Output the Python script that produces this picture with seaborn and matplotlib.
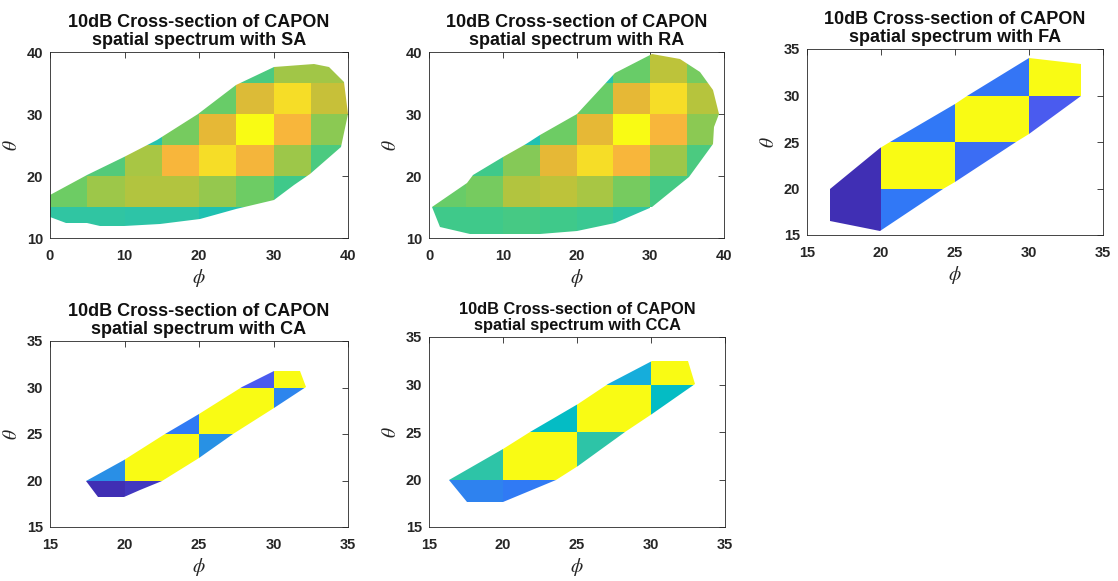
import numpy as np
import matplotlib
matplotlib.use("Agg")
import matplotlib.pyplot as plt
import seaborn as sns
from matplotlib.patches import Polygon
from matplotlib.colors import LinearSegmentedColormap

nan = np.nan

# ---------------- data ----------------
wide_phi_edges = [0, 5, 10, 15, 20, 25, 30, 35, 40]
wide_theta_edges = [10, 15, 20, 25, 30, 35, 40]
narrow_phi_edges = [15, 20, 25, 30, 35]
narrow_theta_edges = [15, 20, 25, 30, 35]

# cell levels (rows = theta bands bottom->top, cols = phi bands left->right)
sa_levels = [
    [0.49, 0.49, 0.48, 0.48, 0.46, 0.47, nan, nan],
    [0.62, 0.68, 0.72, 0.72, 0.67, 0.62, 0.55, 0.55],
    [0.60, 0.58, 0.70, 0.86, 0.93, 0.85, 0.68, 0.57],
    [nan, nan, 0.47, 0.63, 0.82, 1.00, 0.86, 0.66],
    [nan, nan, nan, 0.60, 0.61, 0.80, 0.93, 0.76],
    [nan, nan, nan, nan, 0.56, 0.57, 0.69, 0.69],
]
ra_levels = [
    [0.55, 0.55, 0.56, 0.55, 0.53, 0.49, nan, nan],
    [0.61, 0.63, 0.72, 0.74, 0.70, 0.63, 0.56, 0.56],
    [0.60, 0.55, 0.65, 0.82, 0.93, 0.86, 0.68, 0.57],
    [nan, nan, 0.46, 0.62, 0.82, 1.00, 0.86, 0.66],
    [nan, nan, nan, 0.47, 0.61, 0.82, 0.93, 0.73],
    [nan, nan, nan, nan, 0.47, 0.61, 0.74, 0.63],
]
fa_levels = [
    [0.02, 0.22, nan, nan],
    [0.02, 1.00, 0.18, nan],
    [nan, 0.22, 1.00, 0.12],
    [nan, nan, 0.21, 1.00],
]
ca_levels = [
    [0.02, 0.04, nan, nan],
    [0.29, 1.00, 0.30, nan],
    [nan, 0.23, 1.00, 0.26],
    [nan, nan, 0.12, 1.00],
]
cca_levels = [
    [0.25, 0.23, nan, nan],
    [0.48, 1.00, 0.48, nan],
    [nan, 0.42, 1.00, 0.42],
    [nan, nan, 0.37, 1.00],
]

# 10 dB contour outlines (phi, theta)
sa_phi = [0, 0, 5, 9.9, 14.3, 19.9, 25, 30, 35.4, 37.4, 39.4, 40, 39, 34.9, 32.7, 30, 25, 20.2, 14.8, 9.9, 6.7, 5, 2.2]
sa_theta = [13.4, 16.9, 20.1, 23.1, 25.75, 30.05, 34.6, 37.6, 38.1, 37.6, 35.2, 30.05, 24.7, 20.4, 18.5, 16.1, 14.7, 13.1, 12.3, 12.0, 12.0, 12.4, 12.4]
ra_phi = [0.36, 5.1, 6, 10.1, 13.2, 15, 20, 25.2, 30.2, 34, 36.7, 38.5, 39.3, 38.7, 38.5, 35.3, 30.2, 25.2, 20, 15, 10.1, 5.5, 1.5]
ra_theta = [15.0, 18.9, 20.1, 23.1, 25.2, 26.6, 30.05, 36.6, 39.7, 38.8, 36.8, 33.8, 30.05, 27.9, 25.2, 19.8, 15.0, 12.4, 11.2, 10.7, 10.6, 10.7, 11.8]
fa_phi = [16.53, 16.53, 19.95, 24.2, 25.0, 29.1, 30.0, 33.5, 33.5, 30.0, 25.8, 25.0, 20.6, 19.95]
fa_theta = [19.92, 16.55, 15.48, 19.92, 20.75, 24.95, 25.9, 29.97, 33.4, 34.03, 30.0, 29.1, 24.95, 24.35]
ca_phi = [17.42, 18.2, 19.97, 21.05, 22.5, 25.03, 27.3, 30.0, 32.2, 31.75, 30.0, 27.87, 25.03, 22.73, 19.97]
ca_theta = [19.96, 18.23, 18.23, 18.95, 19.96, 22.47, 25.05, 27.75, 30.08, 31.8, 31.8, 30.08, 27.2, 25.05, 22.25]
cca_phi = [16.33, 17.55, 20.02, 23.6, 25.09, 28.24, 30.1, 33.0, 32.5, 30.1, 27.1, 25.09, 21.8, 20.02]
cca_theta = [19.98, 17.6, 17.6, 19.98, 21.4, 25.0, 26.93, 30.02, 32.47, 32.47, 30.02, 27.98, 25.0, 23.25]

titles = [
    "10dB Cross-section of CAPON\nspatial spectrum with SA",
    "10dB Cross-section of CAPON\nspatial spectrum with RA",
    "10dB Cross-section of CAPON\nspatial spectrum with FA",
    "10dB Cross-section of CAPON\nspatial spectrum with CA",
    "10dB Cross-section of CAPON\nspatial spectrum with CCA",
]
wide_xticks = [0, 10, 20, 30, 40]
wide_yticks = [10, 20, 30, 40]
narrow_ticks = [15, 20, 25, 30, 35]

# ---------------- style ----------------
sns.set_style("white")
plt.rcParams["font.family"] = ["Liberation Sans", "DejaVu Sans"]
plt.rcParams["mathtext.fontset"] = "stix"

parula_like = LinearSegmentedColormap.from_list("parula_like", [
    (0.00, "#3e26a8"), (0.12, "#4a5cf0"), (0.22, "#3178f6"), (0.30, "#2892e4"),
    (0.37, "#16aedb"), (0.42, "#04bcc4"), (0.48, "#2ec4a6"), (0.55, "#3fc98a"),
    (0.62, "#6dcc64"), (0.68, "#9cc74a"), (0.74, "#bcc33a"), (0.82, "#e6b836"),
    (0.86, "#f8b43c"), (0.93, "#f6db28"), (1.00, "#f9fb14"),
])

W, H = 1118, 581
fig = plt.figure(figsize=(W / 100, H / 100), dpi=100)


def px_axes(x0, x1, y0, y1):
    return fig.add_axes([x0 / W, 1 - y1 / H, (x1 - x0) / W, (y1 - y0) / H])


def draw(ax, pe, te, levels, bp, bt, title, xt, yt, tsize=13):
    C = np.ma.masked_invalid(np.array(levels, dtype=float))
    mesh = ax.pcolormesh(pe, te, C, cmap=parula_like, vmin=0, vmax=1,
                         shading="flat", edgecolors="none")
    outline = Polygon(np.column_stack([bp, bt]), closed=True,
                      transform=ax.transData)
    mesh.set_clip_path(outline)
    ax.set_xlim(pe[0], pe[-1])
    ax.set_ylim(te[0], te[-1])
    ax.set_xticks(xt)
    ax.set_yticks(yt)
    ax.tick_params(direction="in", length=4, width=0.6, colors="#262626",
                   top=True, right=True, labelsize=10.5)
    ax.tick_params(axis="x", pad=8)
    ax.tick_params(axis="y", pad=5)
    for lab in ax.get_xticklabels() + ax.get_yticklabels():
        lab.set_fontweight("bold")
    for s in ax.spines.values():
        s.set_color("#262626")
        s.set_linewidth(0.6)
    ax.set_xlabel(r"$\phi$", fontsize=14, labelpad=3)
    ax.set_ylabel(r"$\theta$", fontsize=14, labelpad=4)
    ax.set_title(title, fontsize=tsize, fontweight="bold", pad=5,
                 linespacing=1.1, color="#111111")


ax1 = px_axes(50, 348, 52, 238)
draw(ax1, wide_phi_edges, wide_theta_edges, sa_levels, sa_phi, sa_theta,
     titles[0], wide_xticks, wide_yticks)
ax2 = px_axes(429, 724, 52, 238)
draw(ax2, wide_phi_edges, wide_theta_edges, ra_levels, ra_phi, ra_theta,
     titles[1], wide_xticks, wide_yticks)
ax3 = px_axes(807, 1103, 49, 235)
draw(ax3, narrow_phi_edges, narrow_theta_edges, fa_levels, fa_phi, fa_theta,
     titles[2], narrow_ticks, narrow_ticks)
ax4 = px_axes(50, 348, 341, 527)
draw(ax4, narrow_phi_edges, narrow_theta_edges, ca_levels, ca_phi, ca_theta,
     titles[3], narrow_ticks, narrow_ticks)
ax5 = px_axes(429, 725, 337, 527)
draw(ax5, narrow_phi_edges, narrow_theta_edges, cca_levels, cca_phi, cca_theta,
     titles[4], narrow_ticks, narrow_ticks, tsize=11.8)

fig.savefig("out.png", dpi=100)
